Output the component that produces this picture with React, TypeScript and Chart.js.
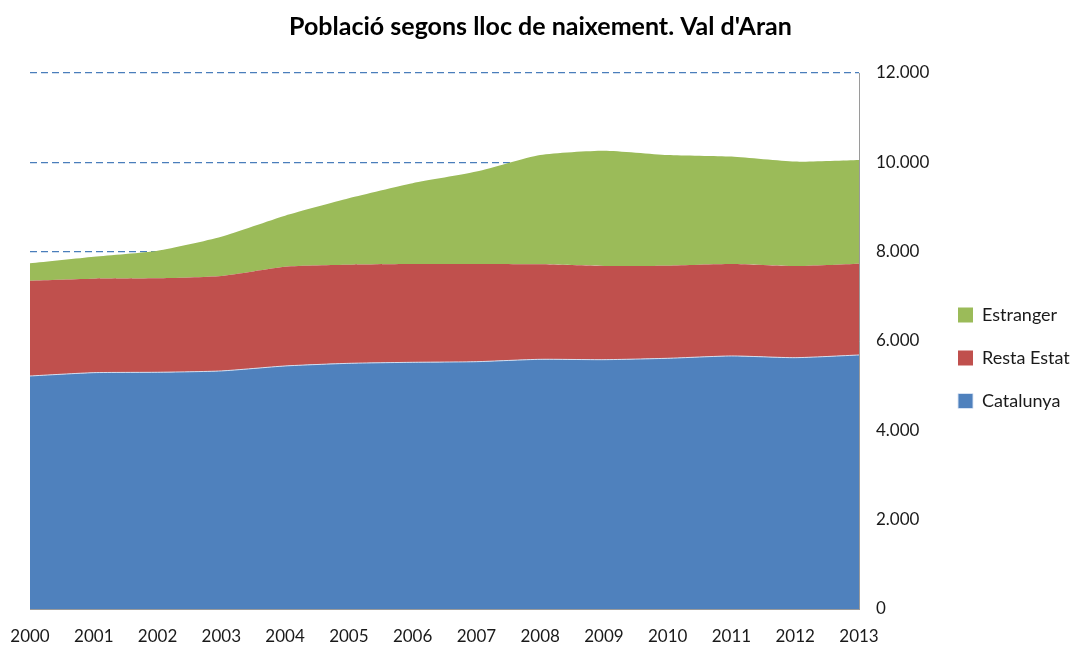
import React, { useEffect, useRef } from "react";
import { Chart, registerables } from "chart.js";

Chart.register(...registerables);

const years = ["2000","2001","2002","2003","2004","2005","2006","2007","2008","2009","2010","2011","2012","2013"];
const catalunya = [5217,5291,5300,5330,5441,5500,5523,5537,5590,5582,5613,5665,5627,5687];
const restaEstat = [2134,2105,2104,2126,2223,2209,2202,2188,2127,2098,2074,2060,2053,2045];
const estranger = [389,492,618,880,1142,1486,1806,2067,2448,2582,2478,2403,2336,2321];

const FONT = "Lato, 'Open Sans', sans-serif";

export default function App() {
  const ref = useRef<HTMLCanvasElement>(null);
  useEffect(() => {
    if (!ref.current) return;
    const chart = new Chart(ref.current, {
      type: "line",
      data: {
        labels: years,
        datasets: [
          { label: "Catalunya", data: catalunya, backgroundColor: "#4f81bd", borderColor: "rgba(220,230,245,0.9)", borderWidth: 1, fill: "origin", pointRadius: 0, tension: 0.2 },
          { label: "Resta Estat", data: restaEstat, backgroundColor: "#c0504d", borderColor: "#c0504d", borderWidth: 0, fill: "-1", pointRadius: 0, tension: 0.2 },
          { label: "Estranger", data: estranger, backgroundColor: "#9bbb59", borderColor: "#9bbb59", borderWidth: 0, fill: "-1", pointRadius: 0, tension: 0.2 },
        ],
      },
      options: {
        animation: false,
        responsive: false,
        maintainAspectRatio: false,
        layout: { padding: { left: 8, right: 0, top: 0, bottom: 0 } },
        plugins: {
          title: {
            display: true,
            text: "Població segons lloc de naixement. Val d'Aran",
            color: "#000",
            font: { family: FONT, size: 25, weight: "bold", lineHeight: 1.2 },
            padding: { top: 12, bottom: 31 },
          },
          legend: {
            position: "right",
            reverse: true,
            maxWidth: 140,
            title: { display: true, text: " ", font: { size: 10, lineHeight: 1.2 }, padding: { top: 29, bottom: 29 } },
            labels: {
              boxWidth: 15,
              boxHeight: 15,
              padding: 25,
              color: "#1a1a1a",
              font: { family: FONT, size: 18 },
            },
          },
          tooltip: { enabled: false },
        },
        scales: {
          x: {
            type: "category",
            offset: false,
            grid: { display: false, drawTicks: false },
            border: { display: true, color: "#9a9a9a", width: 1 },
            ticks: { color: "#1a1a1a", font: { family: FONT, size: 17 }, padding: 17, maxRotation: 0, autoSkip: false },
            afterFit: (s: any) => { s.height = 37; s.paddingLeft = 30; s.paddingRight = 0; },
          },
          y: {
            position: "right",
            stacked: true,
            min: 0,
            max: 12000,
            grid: { color: "#4a7ebb", lineWidth: 1.2, drawTicks: false },
            border: { display: true, color: "#9a9a9a", width: 1, dash: [7, 4] },
            ticks: {
              stepSize: 2000,
              padding: 17,
              color: "#1a1a1a",
              font: { family: FONT, size: 17 },
              callback: (v: any) => Number(v).toLocaleString("de-DE"),
            },
            afterFit: (s: any) => { s.width = 74; },
          },
        },
      },
    });
    return () => chart.destroy();
  }, []);
  return (
    <div style={{ position: "fixed", left: 0, top: 0, width: 1073, height: 646, background: "#fff" }}>
      <canvas ref={ref} width={1073} height={646} style={{ display: "block" }} />
    </div>
  );
}
